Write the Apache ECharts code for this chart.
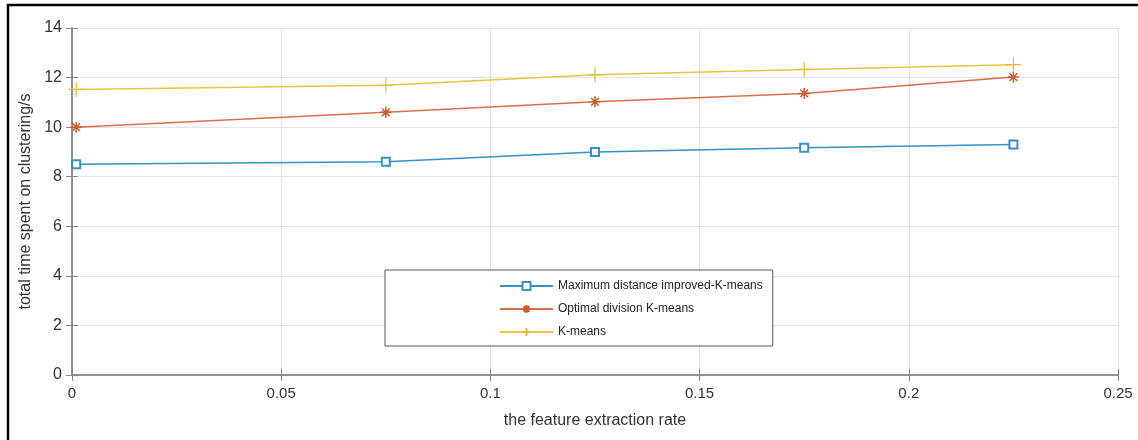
<!DOCTYPE html>
<html>
<head>
<meta charset="utf-8">
<script src="https://cdn.jsdelivr.net/npm/echarts@6/dist/echarts.min.js"></script>
<style>
  html, body { margin: 0; padding: 0; background: #fff; }
  #chart { width: 1138px; height: 440px; }
</style>
</head>
<body>
<div id="chart"></div>
<script>
// feature extraction rate (x) for each measured point
const rates = [0.001, 0.075, 0.125, 0.175, 0.225];
// total clustering time in seconds
const maxDistTimes = [8.5, 8.6, 9.0, 9.17, 9.3];
const optimalTimes = [10.0, 10.6, 11.02, 11.36, 12.02];
const kmeansTimes = [11.52, 11.69, 12.11, 12.33, 12.52];
const seriesNames = ["Maximum distance improved-K-means", "Optimal division K-means", "K-means"];
const xTicks = [0, 0.05, 0.1, 0.15, 0.2, 0.25];
const yTicks = [0, 2, 4, 6, 8, 10, 12, 14];

const chart = echarts.init(document.getElementById("chart"));

// 把x和y拼成点
function pairs(ys) {
  return rates.map((x, i) => [x, ys[i]]);
}

const axisGray = "#8a8a8a";
const font = "Liberation Sans";

const option = {
  backgroundColor: "#fff",
  animation: false,
  grid: { left: 72, right: 20, top: 28, bottom: 65 },
  legend: {
    orient: "vertical",
    left: 385,
    top: 270,
    padding: [10, 10, 8, 114],
    itemWidth: 53,
    itemHeight: 10,
    itemGap: 11,
    borderColor: "#555",
    borderWidth: 1,
    backgroundColor: "#fff",
    textStyle: { fontFamily: font, fontSize: 12, color: "#222" },
    data: seriesNames
  },
  xAxis: [
    {
      type: "value",
      min: xTicks[0],
      max: xTicks[xTicks.length - 1],
      interval: 0.05,
      name: "the feature extraction rate",
      nameLocation: "middle",
      nameGap: 38,
      nameTextStyle: { fontFamily: font, fontSize: 16, color: "#333" },
      axisLine: { show: true, lineStyle: { color: axisGray, width: 1.5 } },
      axisTick: { show: true, inside: true, length: 6, lineStyle: { color: axisGray } },
      axisLabel: {
        fontFamily: font, fontSize: 15, color: "#333", margin: 11,
        formatter: v => String(+v.toFixed(2))
      },
      splitLine: { show: true, lineStyle: { color: "#e4e4e4" } }
    },
    {
      type: "value",
      position: "top",
      min: xTicks[0],
      max: xTicks[xTicks.length - 1],
      interval: 0.05,
      axisLine: { show: true, lineStyle: { color: axisGray, width: 1.5 } },
      axisTick: { show: true, inside: true, length: 6, lineStyle: { color: axisGray } },
      axisLabel: { show: false },
      splitLine: { show: false }
    }
  ],
  yAxis: [
    {
      type: "value",
      min: yTicks[0],
      max: yTicks[yTicks.length - 1],
      interval: 2,
      name: "total time spent on clustering/s",
      nameLocation: "middle",
      nameGap: 25,
      nameTextStyle: { fontFamily: font, fontSize: 16, color: "#333" },
      axisLine: { show: true, lineStyle: { color: axisGray, width: 1.5 } },
      axisTick: { show: true, inside: true, length: 6, lineStyle: { color: axisGray } },
      axisLabel: { fontFamily: font, fontSize: 16, color: "#333", margin: 10 },
      splitLine: { show: true, lineStyle: { color: "#e4e4e4" } }
    },
    {
      type: "value",
      position: "right",
      min: yTicks[0],
      max: yTicks[yTicks.length - 1],
      interval: 2,
      axisLine: { show: true, lineStyle: { color: axisGray, width: 1.5 } },
      axisTick: { show: true, inside: true, length: 6, lineStyle: { color: axisGray } },
      axisLabel: { show: false },
      splitLine: { show: false }
    }
  ],
  series: [
    {
      name: seriesNames[0],
      type: "line",
      data: pairs(maxDistTimes),
      symbol: "emptyRect",
      symbolSize: 8,
      lineStyle: { color: "#3591c6", width: 1.5 },
      itemStyle: { color: "#3591c6", borderColor: "#2b7fb0", borderWidth: 1.5 }
    },
    {
      name: seriesNames[1],
      type: "line",
      data: pairs(optimalTimes),
      symbol: "path://M0,-10L0,10M-10,0L10,0M-7,-7L7,7M-7,7L7,-7",
      symbolSize: 11,
      lineStyle: { color: "#d6714e", width: 1.5 },
      itemStyle: { color: "#d6714e", borderColor: "#d35a2e", borderWidth: 1.5 }
    },
    {
      name: seriesNames[2],
      type: "line",
      data: pairs(kmeansTimes),
      symbol: "path://M0,-10L0,10M-10,0L10,0",
      symbolSize: 15,
      lineStyle: { color: "#e8c53c", width: 1.5 },
      itemStyle: { color: "#e8c53c", borderColor: "#e2bd2a", borderWidth: 1.2 }
    }
  ],
  graphic: [
    // 图片外框（只有上边和左边能看到）
    {
      type: "polyline",
      shape: { points: [[8, 440], [8, 5], [1138, 5]] },
      style: { stroke: "#000", lineWidth: 2.5, fill: null }
    }
  ]
};

chart.setOption(option);
</script>
</body>
</html>
